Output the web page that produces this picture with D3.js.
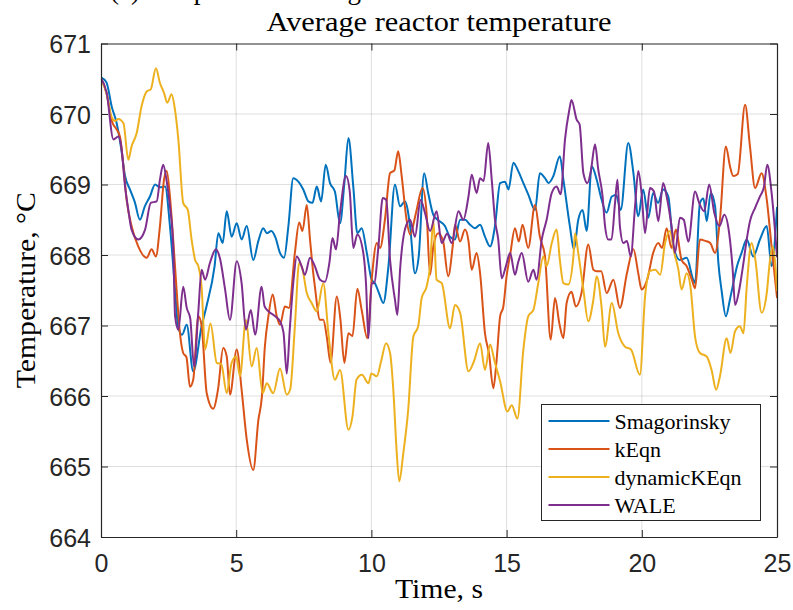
<!DOCTYPE html>
<html><head><meta charset="utf-8">
<script src="https://cdn.jsdelivr.net/npm/d3@7"></script>
<style>body{margin:0;background:#fff;overflow:hidden}</style>
</head><body>
<svg id="chart" width="793" height="610"></svg>
<script>
const seriesNames = ["Smagorinsky", "kEqn", "dynamicKEqn", "WALE"];
const seriesColors = ["#0072BD", "#D95319", "#EDB120", "#7E2F8E"];
const xTicks = [0, 5, 10, 15, 20, 25];
const yTicks = [664, 665, 666, 667, 668, 669, 670, 671];
const titleText = "Average reactor temperature";
const xLabel = "Time, s";
const yLabel = "Temperature, \u00B0C";
const captionText = "(a) Temperature average";

const smagorinsky = [[0,670.52],[0.2,670.45],[0.4,670.1],[0.58,669.87],[0.75,669.5],[0.89,669.12],[1.07,668.93],[1.25,668.75],[1.44,668.5],[1.62,668.69],[1.81,668.83],[2.0,669.0],[2.18,668.96],[2.37,668.97],[2.55,668.41],[2.73,667.55],[2.85,666.99],[3.0,666.87],[3.17,667.01],[3.41,666.35],[3.72,666.99],[3.9,667.27],[4.2,667.84],[4.34,668.31],[4.5,668.17],[4.65,668.62],[4.83,668.26],[5.02,668.45],[5.2,668.22],[5.39,668.41],[5.63,667.93],[5.82,668.2],[6.0,668.38],[6.13,668.31],[6.3,668.34],[6.45,668.25],[6.62,668.03],[6.77,667.96],[6.93,668.41],[7.11,669.09],[7.3,669.04],[7.48,668.93],[7.67,668.76],[7.82,668.74],[7.98,668.97],[8.14,668.76],[8.31,669.28],[8.47,669.02],[8.65,668.9],[8.84,668.45],[9.0,669.02],[9.15,669.66],[9.33,668.97],[9.48,668.31],[9.64,668.38],[9.83,668.03],[10.01,667.65],[10.13,667.6],[10.28,667.46],[10.44,667.32],[10.63,667.84],[10.87,669.0],[11.06,668.69],[11.24,668.76],[11.43,668.41],[11.61,667.74],[11.75,667.98],[11.95,669.16],[12.1,668.88],[12.29,668.57],[12.45,668.5],[12.72,668.41],[12.9,668.26],[13.09,668.22],[13.28,668.5],[13.46,668.5],[13.65,668.43],[13.83,668.38],[14.02,668.43],[14.2,668.26],[14.39,668.12],[14.57,668.41],[14.76,669.02],[14.94,669.04],[15.07,668.93],[15.25,669.31],[15.43,669.19],[15.62,669.02],[15.8,668.86],[16.05,668.64],[16.23,669.16],[16.42,669.09],[16.55,669.02],[16.73,669.12],[16.97,669.4],[17.1,669.07],[17.34,668.41],[17.49,668.08],[17.65,668.5],[17.81,668.64],[17.96,668.34],[18.15,669.26],[18.33,669.07],[18.51,668.79],[18.7,668.6],[18.89,668.83],[19.05,668.85],[19.22,668.64],[19.5,669.59],[19.69,669.16],[19.87,668.55],[20.05,668.93],[20.24,668.53],[20.42,668.88],[20.6,668.74],[20.79,668.93],[20.98,668.83],[21.17,668.12],[21.41,667.93],[21.66,667.96],[21.9,667.65],[21.97,667.6],[22.15,668.74],[22.28,668.8],[22.4,668.48],[22.55,668.88],[22.71,668.69],[22.83,667.9],[22.95,667.5],[23.11,667.13],[23.26,667.37],[23.45,667.72],[23.52,667.84],[23.69,668.03],[23.88,668.22],[24.12,667.98],[24.37,668.22],[24.62,668.41],[24.8,667.84],[25.0,668.67]];

const kEqn = [[0,670.5],[0.2,670.3],[0.4,669.9],[0.58,669.78],[0.7,669.68],[0.82,669.3],[0.95,668.78],[1.13,668.41],[1.38,668.12],[1.69,667.96],[1.87,668.08],[2.03,667.98],[2.18,668.41],[2.33,669.07],[2.43,669.19],[2.55,668.83],[2.67,668.22],[2.77,667.65],[2.92,666.89],[3.04,666.61],[3.16,666.55],[3.29,666.13],[3.41,666.23],[3.6,667.13],[3.72,667.0],[3.91,666.04],[4.15,665.82],[4.33,666.1],[4.52,666.68],[4.65,666.56],[4.77,666.02],[5.02,666.66],[5.2,666.09],[5.39,665.38],[5.63,664.95],[5.82,665.66],[5.95,665.99],[6.06,666.7],[6.19,667.13],[6.35,667.44],[6.5,667.13],[6.62,667.01],[6.8,667.27],[6.95,667.25],[7.17,668.03],[7.33,668.46],[7.45,668.34],[7.61,668.71],[7.73,668.22],[7.85,667.74],[7.91,667.55],[8.1,667.08],[8.22,667.08],[8.35,666.84],[8.49,666.47],[8.72,667.41],[8.85,667.1],[9.0,666.47],[9.15,666.89],[9.3,666.85],[9.48,667.52],[9.64,667.22],[9.85,666.82],[10.01,667.65],[10.2,668.17],[10.32,668.1],[10.5,668.5],[10.69,669.16],[10.85,669.2],[10.99,669.47],[11.12,669.12],[11.3,668.5],[11.43,668.29],[11.65,668.6],[11.89,668.95],[12.04,668.6],[12.17,667.72],[12.29,668.12],[12.47,668.31],[12.65,668.2],[12.84,667.7],[13.0,668.1],[13.09,668.43],[13.28,668.19],[13.46,668.36],[13.59,668.2],[13.71,667.79],[13.89,668.03],[14.02,667.74],[14.2,666.89],[14.35,666.6],[14.51,666.11],[14.63,666.51],[14.76,667.13],[14.88,667.27],[15.0,667.7],[15.13,668.0],[15.31,668.38],[15.45,668.19],[15.59,668.43],[15.8,668.1],[16.05,668.71],[16.23,668.26],[16.42,667.98],[16.63,666.8],[16.79,667.39],[16.95,667.03],[17.1,666.82],[17.22,667.32],[17.4,667.48],[17.56,667.27],[17.78,667.48],[18.02,668.15],[18.21,667.79],[18.33,667.77],[18.5,667.77],[18.7,667.46],[18.95,667.65],[19.19,667.25],[19.45,667.74],[19.69,668.08],[19.87,667.74],[19.99,667.51],[20.2,667.65],[20.42,668.03],[20.61,668.17],[20.75,668.1],[20.92,668.38],[21.1,668.1],[21.26,668.36],[21.47,667.93],[21.66,667.84],[21.85,667.65],[21.97,667.53],[22.15,668.22],[22.35,668.2],[22.53,668.17],[22.71,668.03],[22.89,668.5],[23.11,669.54],[23.26,669.26],[23.38,669.12],[23.55,669.15],[23.82,670.13],[24.0,669.54],[24.19,668.95],[24.43,669.16],[24.62,668.79],[24.8,668.12],[25.0,667.4]];

const dynamicKEqn = [[0,670.5],[0.2,670.3],[0.4,669.95],[0.52,669.9],[0.64,669.93],[0.83,669.87],[1.01,669.35],[1.13,669.54],[1.32,669.73],[1.5,670.11],[1.69,670.32],[1.84,670.35],[2.03,670.65],[2.18,670.44],[2.33,670.3],[2.45,670.16],[2.61,670.28],[2.72,670.1],[2.86,669.64],[3.04,668.74],[3.21,668.64],[3.35,668.22],[3.48,667.93],[3.6,667.84],[3.72,667.55],[3.85,666.66],[4.05,667.03],[4.28,666.47],[4.45,666.45],[4.65,666.04],[4.83,666.47],[5.0,666.56],[5.14,666.28],[5.36,667.08],[5.57,666.42],[5.76,666.68],[5.98,666.04],[6.13,666.18],[6.37,666.04],[6.62,666.39],[6.87,666.02],[7.0,666.1],[7.17,666.99],[7.33,667.89],[7.45,667.8],[7.61,667.46],[7.79,667.32],[7.98,667.2],[8.22,667.6],[8.41,666.89],[8.65,666.23],[8.84,666.37],[9.15,665.52],[9.3,665.71],[9.45,666.23],[9.65,666.3],[9.89,666.18],[10.0,666.32],[10.2,666.28],[10.37,666.51],[10.54,666.75],[10.69,666.61],[10.81,666.09],[10.93,665.24],[11.03,664.79],[11.18,665.19],[11.36,665.8],[11.55,666.84],[11.73,666.99],[11.86,667.39],[12.04,667.55],[12.17,667.84],[12.29,668.5],[12.41,667.65],[12.6,667.6],[12.91,666.96],[13.09,667.29],[13.28,667.18],[13.59,666.35],[13.8,666.5],[14.02,666.75],[14.2,666.37],[14.39,666.73],[14.55,666.5],[14.76,666.21],[15.03,665.78],[15.19,665.87],[15.4,665.68],[15.62,666.66],[15.8,667.13],[15.99,667.22],[16.17,667.6],[16.36,667.98],[16.48,667.84],[16.67,668.17],[16.85,668.36],[16.97,667.93],[17.1,667.6],[17.28,667.58],[17.47,667.98],[17.53,668.31],[17.65,668.03],[17.84,667.51],[18.02,667.06],[18.21,667.37],[18.33,667.7],[18.51,667.27],[18.64,666.7],[18.89,667.32],[19.13,666.89],[19.38,666.7],[19.6,666.66],[19.93,666.3],[20.12,667.41],[20.3,667.77],[20.5,667.79],[20.68,667.72],[20.86,668.17],[21.04,668.34],[21.2,668.03],[21.35,667.8],[21.47,667.51],[21.66,667.74],[21.8,667.55],[21.97,666.84],[22.15,666.61],[22.4,666.56],[22.58,666.37],[22.75,666.09],[22.89,666.28],[23.14,666.82],[23.28,666.61],[23.45,666.92],[23.63,666.99],[23.76,666.89],[23.88,667.55],[24.06,668.17],[24.2,667.93],[24.43,667.18],[24.62,667.46],[24.73,667.89],[24.84,668.12],[25.0,667.5]];

const wale = [[0,670.51],[0.21,670.3],[0.46,669.64],[0.64,669.68],[0.75,669.54],[0.89,668.97],[1.01,668.64],[1.13,668.36],[1.38,668.22],[1.63,668.36],[1.84,668.74],[2.06,668.76],[2.18,669.07],[2.3,669.28],[2.42,669.07],[2.55,668.69],[2.67,668.12],[2.74,667.13],[2.86,666.94],[3.04,667.55],[3.17,667.25],[3.3,667.1],[3.44,666.42],[3.6,667.2],[3.72,667.79],[3.85,667.65],[4.03,667.89],[4.25,668.08],[4.4,667.95],[4.59,667.51],[4.77,667.08],[5.02,667.91],[5.2,667.6],[5.36,666.94],[5.54,667.22],[5.7,666.87],[5.94,667.55],[6.05,667.27],[6.2,667.2],[6.44,667.13],[6.62,667.06],[6.75,666.9],[6.87,666.32],[6.98,666.94],[7.11,667.6],[7.24,667.98],[7.42,667.84],[7.54,667.72],[7.73,667.96],[7.9,667.85],[8.1,667.65],[8.28,667.62],[8.45,667.9],[8.56,668.24],[8.69,668.08],[8.84,668.6],[9.06,669.12],[9.2,668.9],[9.33,668.1],[9.48,668.29],[9.7,668.03],[9.8,667.6],[9.89,666.82],[10.01,667.6],[10.1,667.6],[10.26,668.12],[10.42,668.81],[10.55,668.78],[10.69,667.93],[10.87,667.37],[10.96,667.15],[11.06,667.79],[11.24,668.36],[11.43,668.5],[11.61,668.26],[11.82,668.78],[11.98,668.6],[12.17,668.34],[12.41,668.62],[12.6,668.17],[12.8,668.3],[12.97,668.17],[13.22,668.62],[13.4,668.5],[13.59,668.83],[13.71,669.14],[13.89,668.88],[14.02,669.09],[14.15,669.05],[14.32,669.59],[14.45,669.07],[14.57,668.5],[14.69,668.22],[14.82,667.67],[14.98,667.85],[15.13,668.03],[15.31,667.72],[15.43,667.9],[15.56,668.03],[15.8,667.62],[15.99,667.79],[16.11,667.65],[16.3,668.22],[16.48,668.5],[16.67,668.88],[16.85,668.97],[17.0,668.86],[17.16,669.64],[17.32,670.06],[17.4,670.2],[17.59,669.92],[17.7,669.85],[17.84,669.16],[17.99,669.02],[18.12,669.2],[18.27,669.57],[18.39,669.21],[18.55,668.83],[18.64,668.41],[18.76,668.22],[18.88,668.22],[19.01,668.74],[19.1,669.07],[19.19,668.41],[19.32,668.17],[19.45,668.2],[19.59,667.98],[19.75,668.69],[19.87,669.19],[19.99,668.88],[20.12,668.31],[20.3,668.95],[20.45,668.9],[20.61,668.48],[20.79,669.02],[20.92,668.83],[21.1,668.41],[21.23,668.03],[21.41,668.53],[21.55,668.5],[21.72,668.19],[21.97,668.9],[22.12,668.74],[22.31,668.62],[22.49,669.0],[22.68,668.6],[22.87,668.41],[23.05,668.57],[23.23,668.31],[23.36,667.8],[23.45,667.29],[23.6,667.5],[23.76,667.89],[23.88,668.22],[24.0,668.48],[24.19,668.67],[24.37,668.83],[24.52,668.97],[24.64,669.28],[24.8,668.88],[25.0,667.98]];

const seriesData = [smagorinsky, kEqn, dynamicKEqn, wale];

const svg = d3.select("#chart");
const L = 101, R = 777, T = 43.5, B = 537;
const x = d3.scaleLinear().domain([0, 25]).range([L, R]);
const y = d3.scaleLinear().domain([664, 671]).range([B, T]);
const axisColor = "#262626";
const tickFont = "'Liberation Sans', Arial, Helvetica, sans-serif";
const serif = "'Liberation Serif', 'Times New Roman', serif";

// cropped caption at very top
svg.append("text").attr("x", 110).attr("y", -1)
  .attr("font-family", serif).attr("font-size", 27).attr("fill", "#000")
  .text(captionText);

// background
svg.append("rect").attr("x", L).attr("y", T).attr("width", R - L).attr("height", B - T).attr("fill", "#fff");

// grid
const grid = svg.append("g").attr("stroke", axisColor).attr("stroke-opacity", 0.15).attr("stroke-width", 1);
grid.selectAll("line.gx").data(xTicks.slice(1, -1)).join("line")
  .attr("x1", d => x(d)).attr("x2", d => x(d)).attr("y1", T).attr("y2", B);
grid.selectAll("line.gy").data(yTicks.slice(1, -1)).join("line")
  .attr("x1", L).attr("x2", R).attr("y1", d => y(d)).attr("y2", d => y(d));

// lines
svg.append("clipPath").attr("id", "clip").append("rect")
  .attr("x", L).attr("y", T).attr("width", R - L).attr("height", B - T);
const line = d3.line().x(d => x(d[0])).y(d => y(d[1])).curve(d3.curveMonotoneX);
const plot = svg.append("g").attr("clip-path", "url(#clip)");
seriesData.forEach((s, i) => {
  plot.append("path").datum(s).attr("d", line)
    .attr("fill", "none").attr("stroke", seriesColors[i])
    .attr("stroke-width", 2).attr("stroke-linejoin", "round").attr("stroke-linecap", "round");
});

// axes
function styleAxis(g) {
  g.selectAll(".domain").attr("stroke", axisColor).attr("stroke-width", 1.2);
  g.selectAll(".tick line").attr("stroke", axisColor).attr("stroke-width", 1);
  g.selectAll("text").attr("fill", axisColor).attr("font-family", tickFont).attr("font-size", 25);
}
const xAxis = svg.append("g").attr("transform", `translate(0,${B})`)
  .call(d3.axisBottom(x).tickValues(xTicks).tickSizeInner(-7).tickSizeOuter(0).tickFormat(d3.format("d")));
styleAxis(xAxis);
xAxis.selectAll("text").attr("y", 35).attr("dy", 0);

const xAxisTop = svg.append("g").attr("transform", `translate(0,${T})`)
  .call(d3.axisTop(x).tickValues(xTicks).tickSizeInner(-7).tickSizeOuter(0).tickFormat(""));
styleAxis(xAxisTop);

const yAxis = svg.append("g").attr("transform", `translate(${L},0)`)
  .call(d3.axisLeft(y).tickValues(yTicks).tickSizeInner(-7).tickSizeOuter(0).tickFormat(d3.format("d")));
styleAxis(yAxis);
yAxis.selectAll("text").attr("x", -10).attr("dy", "0.36em");

const yAxisRight = svg.append("g").attr("transform", `translate(${R},0)`)
  .call(d3.axisRight(y).tickValues(yTicks).tickSizeInner(-7).tickSizeOuter(0).tickFormat(""));
styleAxis(yAxisRight);

// title and labels
svg.append("text").attr("x", (L + R) / 2).attr("y", 31)
  .attr("text-anchor", "middle").attr("font-family", serif).attr("font-size", 27)
  .attr("textLength", 345).attr("lengthAdjust", "spacingAndGlyphs")
  .attr("fill", "#000").text(titleText);
svg.append("text").attr("x", (L + R) / 2).attr("y", 598)
  .attr("text-anchor", "middle").attr("font-family", serif).attr("font-size", 27)
  .attr("textLength", 88).attr("lengthAdjust", "spacingAndGlyphs")
  .attr("fill", "#000").text(xLabel);
svg.append("text").attr("transform", `translate(35,${(T + B) / 2}) rotate(-90)`)
  .attr("text-anchor", "middle").attr("font-family", serif).attr("font-size", 27)
  .attr("textLength", 196).attr("lengthAdjust", "spacingAndGlyphs")
  .attr("fill", "#000").text(yLabel);

// legend
const lg = svg.append("g").attr("transform", "translate(541.5,404.5)");
lg.append("rect").attr("width", 219).attr("height", 116).attr("fill", "#fff")
  .attr("stroke", axisColor).attr("stroke-width", 1);
seriesNames.forEach((n, i) => {
  const ry = 16.5 + i * 28;
  lg.append("line").attr("x1", 7).attr("x2", 68).attr("y1", ry).attr("y2", ry)
    .attr("stroke", seriesColors[i]).attr("stroke-width", 2);
  lg.append("text").attr("x", 73).attr("y", ry + 7.5)
    .attr("font-family", serif).attr("font-size", 22).attr("fill", "#000").text(n);
});
</script>
</body></html>
